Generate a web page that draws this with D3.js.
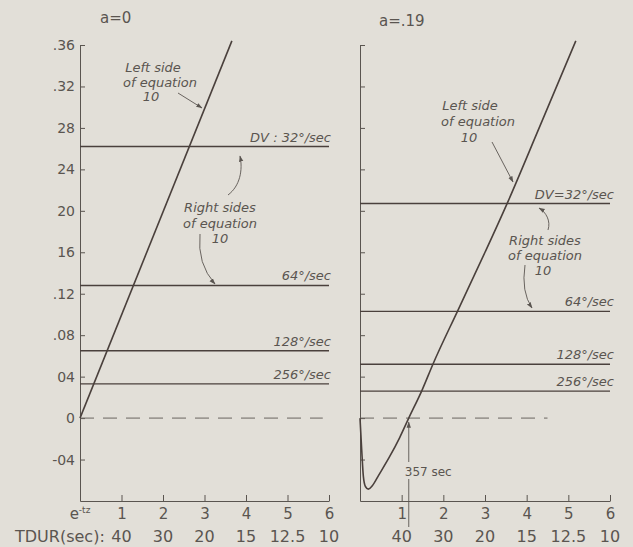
<!DOCTYPE html>
<html>
<head>
  <title>Left and right sides of equation 10</title>
  <style>
    html, body {
      margin: 0;
      padding: 0;
      background: #e2dfd8;
    }
    svg { display: block; }
    .tick text, .num {
      font-family: "DejaVu Sans", sans-serif;
      fill: #5a5550;
    }
    .note {
      font-family: "DejaVu Sans", sans-serif;
      font-style: italic;
      font-size: 13px;
      fill: #5a5550;
    }
    .domain, .tick line {
      stroke: #5a5550;
      stroke-width: 1;
    }
  </style>
  <script src="https://d3js.org/d3.v7.min.js"></script>
</head>
<body>
  <div id="chart"></div>
  <script>
    // values
    const yTicks = [-0.04, 0, 0.04, 0.08, 0.12, 0.16, 0.20, 0.24, 0.28, 0.32, 0.36];
    const yTickLabels = ["-04", "0", "04", ".08", ".12", "16", "20", "24", "28", ".32", ".36"];
    const xTicks = [1, 2, 3, 4, 5, 6];
    const xTickLabels = ["1", "2", "3", "4", "5", "6"];
    const tdurLabels = ["40", "30", "20", "15", "12.5", "10"];
    const dvLabels = ["DV : 32°/sec", "64°/sec", "128°/sec", "256°/sec"];
    const dvLabelsB = ["DV=32°/sec", "64°/sec", "128°/sec", "256°/sec"];

    // a = 0
    const rightSidesA = [0.262, 0.128, 0.065, 0.033];
    const leftSideAx = [0, 3.66];
    const leftSideAy = [0, 0.364];

    // a = .19
    const rightSidesB = [0.207, 0.103, 0.052, 0.026];
    const leftSideBx = [0, 0.04, 0.08, 0.13, 0.2, 0.3, 0.45, 0.7, 0.95, 1.17, 1.49, 1.75, 2.35, 3.0, 3.53, 4.3, 5.18];
    const leftSideBy = [0, -0.03, -0.056, -0.066, -0.0685, -0.065, -0.055, -0.038, -0.019, 0, 0.027, 0.052, 0.104, 0.16, 0.207, 0.28, 0.364];

    const width = 633, height = 547;
    const ink = "#4a403c";

    const svg = d3.select("#chart").append("svg")
      .attr("width", width)
      .attr("height", height);

    const defs = svg.append("defs");
    defs.append("marker")
      .attr("id", "head")
      .attr("viewBox", "0 0 10 10")
      .attr("refX", 9).attr("refY", 5)
      .attr("markerWidth", 7).attr("markerHeight", 7)
      .attr("orient", "auto")
      .append("path")
      .attr("d", "M0,1.5 L10,5 L0,8.5 Z")
      .attr("fill", "#5a5550");

    const y = d3.scaleLinear().domain([-0.08, 0.36]).range([501, 45]);

    function panel(opts) {
      const x = d3.scaleLinear().domain([0, 6]).range(opts.xRange);
      const g = svg.append("g");

      // y axis, ticks pointing inward
      const ya = g.append("g")
        .attr("transform", `translate(${opts.xRange[0]},0)`)
        .call(d3.axisLeft(y)
          .tickValues(yTicks)
          .tickSizeInner(-5)
          .tickSizeOuter(0)
          .tickPadding(5)
          .tickFormat((d, i) => opts.yLabels ? yTickLabels[i] : ""));
      ya.selectAll(".tick text").attr("font-size", 14);

      // x axis, ticks pointing up
      const xa = g.append("g")
        .attr("transform", `translate(0,${y(-0.08)})`)
        .call(d3.axisBottom(x)
          .tickValues(xTicks)
          .tickSizeInner(-6)
          .tickSizeOuter(0)
          .tickPadding(7)
          .tickFormat((d, i) => xTickLabels[i]));
      xa.selectAll(".tick text").attr("font-size", 15);

      g.selectAll(".tdur")
        .data(xTicks)
        .enter().append("text")
        .attr("class", "num")
        .attr("x", d => x(d))
        .attr("y", 542)
        .attr("text-anchor", "middle")
        .attr("font-size", 16)
        .text((d, i) => tdurLabels[i]);

      // dashed zero line
      g.append("line")
        .attr("x1", x(0)).attr("x2", x(opts.zeroEnd))
        .attr("y1", y(0)).attr("y2", y(0))
        .attr("stroke", "#6a6460")
        .attr("stroke-dasharray", "14,9");

      // right sides of equation 10
      g.selectAll(".rs")
        .data(opts.rightSides)
        .enter().append("line")
        .attr("x1", x(0)).attr("x2", x(6))
        .attr("y1", d => y(d)).attr("y2", d => y(d))
        .attr("stroke", ink)
        .attr("stroke-width", 1.4);

      g.selectAll(".rsl")
        .data(opts.rightSides)
        .enter().append("text")
        .attr("class", "note")
        .attr("font-size", 14)
        .attr("x", x(6) + opts.labelDx)
        .attr("y", d => y(d) - 5)
        .attr("text-anchor", "end")
        .text((d, i) => opts.dvLabels[i]);

      // left side of equation 10
      const pts = opts.lx.map((v, i) => [v, opts.ly[i]]);
      g.append("path")
        .datum(pts)
        .attr("fill", "none")
        .attr("stroke", ink)
        .attr("stroke-width", 1.6)
        .attr("d", d3.line().x(d => x(d[0])).y(d => y(d[1])).curve(d3.curveMonotoneX));

      return { g, x };
    }

    function note(g, lines, cx, y0, dy) {
      lines.forEach((t, i) => {
        g.append("text")
          .attr("class", "note")
          .attr("x", cx[i])
          .attr("y", y0 + i * dy)
          .attr("text-anchor", "middle")
          .text(t);
      });
    }

    function arrow(g, d) {
      g.append("path")
        .attr("d", d)
        .attr("fill", "none")
        .attr("stroke", "#5a5550")
        .attr("stroke-width", 0.9)
        .attr("marker-end", "url(#head)");
    }

    // ---- a = 0
    const A = panel({
      xRange: [80, 329], yLabels: true, zeroEnd: 5.85,
      rightSides: rightSidesA, dvLabels: dvLabels, labelDx: 2,
      lx: leftSideAx, ly: leftSideAy
    });
    A.g.append("text").attr("class", "num").attr("x", 100).attr("y", 23)
      .attr("font-size", 15).text("a=0");
    note(A.g, ["Left side", "of equation", "10"], [153, 160, 151], 72, 14.5);
    arrow(A.g, "M178,93 L202,108");
    note(A.g, ["Right sides", "of equation", "10"], [220, 220, 220], 212, 15.5);
    arrow(A.g, "M228,195 C240,186 243,170 240,156");
    arrow(A.g, "M200,234 Q197,264 215,284");

    const e = A.g.append("text").attr("class", "num")
      .attr("x", A.x(0)).attr("y", 519)
      .attr("text-anchor", "middle").attr("font-size", 15);
    e.append("tspan").text("e");
    e.append("tspan").attr("dy", -6).attr("font-size", 9).text("-tz");
    A.g.append("text").attr("class", "num").attr("x", 15).attr("y", 542)
      .attr("font-size", 16).text("TDUR(sec):");

    // ---- a = .19
    const B = panel({
      xRange: [360, 610], yLabels: false, zeroEnd: 4.5,
      rightSides: rightSidesB, dvLabels: dvLabelsB, labelDx: 4,
      lx: leftSideBx, ly: leftSideBy
    });
    B.g.append("text").attr("class", "num").attr("x", 379).attr("y", 26)
      .attr("font-size", 15).text("a=.19");
    note(B.g, ["Left side", "of equation", "10"], [470, 478, 469], 110, 16);
    arrow(B.g, "M492,142 L513,182");
    note(B.g, ["Right sides", "of equation", "10"], [545, 545, 543], 245, 15);
    arrow(B.g, "M548,230 C551,221 546,212 539,208");
    arrow(B.g, "M525,265 Q521,292 532,308");

    // 357 sec crossing
    const xc = B.x(1.17);
    B.g.append("line").attr("x1", xc).attr("x2", xc)
      .attr("y1", 462).attr("y2", y(0) + 4)
      .attr("stroke", "#5a5550").attr("stroke-width", 0.9)
      .attr("marker-end", "url(#head)");
    B.g.append("line").attr("x1", xc).attr("x2", xc)
      .attr("y1", 479).attr("y2", 527)
      .attr("stroke", "#5a5550").attr("stroke-width", 0.9);
    B.g.append("text").attr("class", "num").attr("x", xc - 4).attr("y", 476)
      .attr("font-size", 12).text("357 sec");
  </script>
</body>
</html>
